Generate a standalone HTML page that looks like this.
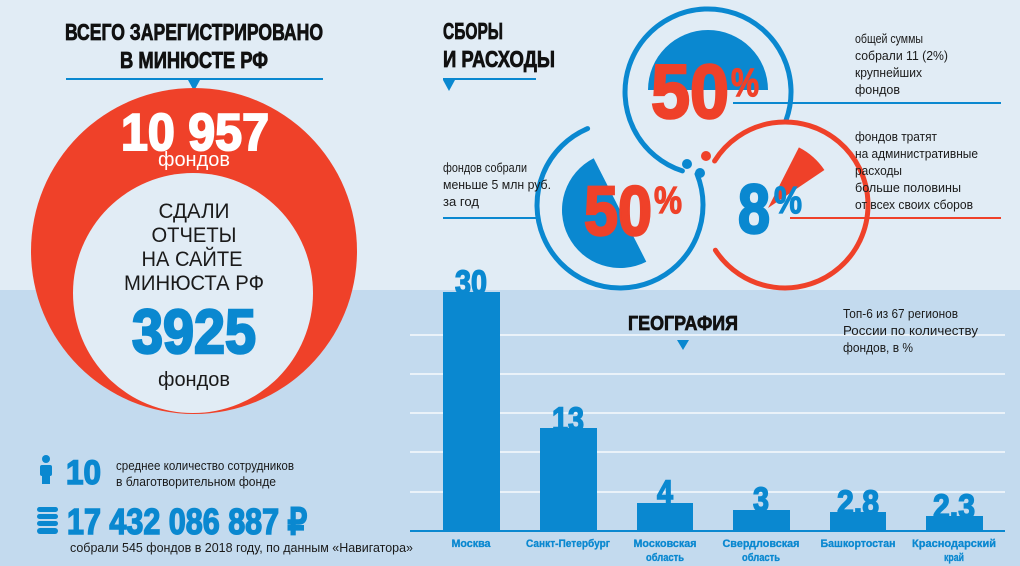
<!DOCTYPE html>
<html><head><meta charset="utf-8"><style>
html,body{margin:0;padding:0;background:#e1ecf5;}
svg{display:block}
text{font-family:"Liberation Sans",sans-serif;}
</style></head><body>
<svg width="1020" height="566" viewBox="0 0 1020 566" xmlns="http://www.w3.org/2000/svg">
<rect x="0" y="0" width="1020" height="290" fill="#e1ecf5"/>
<rect x="0" y="290" width="1020" height="276" fill="#c3daee"/>

<text x="194" y="40" text-anchor="middle" font-size="23" font-weight="bold" fill="#111" stroke="#111" stroke-width="0.8" textLength="258" lengthAdjust="spacingAndGlyphs">ВСЕГО ЗАРЕГИСТРИРОВАНО</text>
<text x="194" y="68" text-anchor="middle" font-size="23" font-weight="bold" fill="#111" stroke="#111" stroke-width="0.8" textLength="148" lengthAdjust="spacingAndGlyphs">В МИНЮСТЕ РФ</text>
<rect x="66" y="78" width="257" height="2" fill="#0a88d0"/>
<polygon points="188,80 200,80 194,91" fill="#0a88d0"/>
<circle cx="194" cy="251" r="163" fill="#ef4129"/>
<circle cx="193" cy="293" r="120" fill="#e1ecf5"/>
<text x="195" y="150" text-anchor="middle" font-size="52" font-weight="bold" fill="#fff" stroke="#fff" stroke-width="2" textLength="148" lengthAdjust="spacingAndGlyphs">10 957</text>
<text x="194" y="166" text-anchor="middle" font-size="20" fill="#fff" textLength="72" lengthAdjust="spacingAndGlyphs">фондов</text>
<g font-size="21" fill="#1a1a1a" text-anchor="middle">
<text x="194" y="218" textLength="71" lengthAdjust="spacingAndGlyphs">СДАЛИ</text>
<text x="194" y="242" textLength="85" lengthAdjust="spacingAndGlyphs">ОТЧЕТЫ</text>
<text x="192" y="266" textLength="101" lengthAdjust="spacingAndGlyphs">НА САЙТЕ</text>
<text x="194" y="290" textLength="140" lengthAdjust="spacingAndGlyphs">МИНЮСТА РФ</text>
</g>
<text x="194" y="353" text-anchor="middle" font-size="62" font-weight="bold" fill="#0a88d0" stroke="#0a88d0" stroke-width="2.5" textLength="124" lengthAdjust="spacingAndGlyphs">3925</text>
<text x="194" y="386" text-anchor="middle" font-size="20" fill="#1a1a1a" textLength="72" lengthAdjust="spacingAndGlyphs">фондов</text>

<g fill="#0a88d0">
<circle cx="46" cy="459" r="4"/>
<rect x="40" y="465" width="12" height="11" rx="2"/>
<rect x="42" y="474" width="8" height="10"/>
<rect x="37" y="507" width="21" height="5" rx="2.5"/>
<rect x="37" y="514" width="21" height="5" rx="2.5"/>
<rect x="37" y="521" width="21" height="5" rx="2.5"/>
<rect x="37" y="528" width="21" height="6" rx="3"/>
</g>
<text x="66" y="484" font-size="34" font-weight="bold" fill="#0a88d0" stroke="#0a88d0" stroke-width="1.5" textLength="35" lengthAdjust="spacingAndGlyphs">10</text>
<text x="116" y="470" font-size="13" fill="#1a1a1a" textLength="178" lengthAdjust="spacingAndGlyphs">среднее количество сотрудников</text>
<text x="116" y="486" font-size="13" fill="#1a1a1a" textLength="160" lengthAdjust="spacingAndGlyphs">в благотворительном фонде</text>
<text x="67" y="534" font-size="36" font-weight="bold" fill="#0a88d0" stroke="#0a88d0" stroke-width="1.5" textLength="240" lengthAdjust="spacingAndGlyphs">17 432 086 887 ₽</text>
<text x="70" y="552" font-size="13" fill="#1a1a1a" textLength="343" lengthAdjust="spacingAndGlyphs">собрали 545 фондов в 2018 году, по данным «Навигатора»</text>

<text x="443" y="39" font-size="23" font-weight="bold" fill="#111" stroke="#111" stroke-width="0.8" textLength="60" lengthAdjust="spacingAndGlyphs">СБОРЫ</text>
<text x="443" y="67" font-size="23" font-weight="bold" fill="#111" stroke="#111" stroke-width="0.8" textLength="112" lengthAdjust="spacingAndGlyphs">И РАСХОДЫ</text>
<rect x="443" y="78" width="93" height="2" fill="#0a88d0"/>
<polygon points="443,80 455,80 449,91" fill="#0a88d0"/>

<path d="M708 90 L648 90 A60 60 0 0 1 768 90 Z" fill="#0a88d0"/>
<path d="M620 210 L646.3 261.7 A58 58 0 0 1 593.7 158.3 Z" fill="#0a88d0"/>
<path d="M768 208 L798.9 147.4 A68 68 0 0 1 824.4 170 Z" fill="#ef4129"/>

<g fill="none" stroke-width="5" stroke-linecap="round">
<path d="M682.4 170.9 A83 83 0 1 1 786 120.4" stroke="#0a88d0"/>
<path d="M697 174 A83 83 0 1 1 587.6 128.6" stroke="#0a88d0"/>
<path d="M714.6 161 A83 83 0 1 1 715.4 250.2" stroke="#ef4129"/>
</g>
<circle cx="687" cy="164" r="5" fill="#0a88d0"/>
<circle cx="706" cy="156" r="5" fill="#ef4129"/>
<circle cx="700" cy="173" r="5" fill="#0a88d0"/>

<g font-weight="bold">
<text x="651" y="118" font-size="76" fill="#ef4129" stroke="#ef4129" stroke-width="2.5" textLength="78" lengthAdjust="spacingAndGlyphs">50</text>
<text x="731" y="96" font-size="40" fill="#ef4129" stroke="#ef4129" stroke-width="1.2" textLength="28" lengthAdjust="spacingAndGlyphs">%</text>
<text x="584" y="235" font-size="70" fill="#ef4129" stroke="#ef4129" stroke-width="2.5" textLength="68" lengthAdjust="spacingAndGlyphs">50</text>
<text x="654" y="213" font-size="38" fill="#ef4129" stroke="#ef4129" stroke-width="1.2" textLength="28" lengthAdjust="spacingAndGlyphs">%</text>
<text x="738" y="233" font-size="70" fill="#0a88d0" stroke="#0a88d0" stroke-width="2.5" textLength="32" lengthAdjust="spacingAndGlyphs">8</text>
<text x="774" y="213" font-size="38" fill="#0a88d0" stroke="#0a88d0" stroke-width="1.2" textLength="28" lengthAdjust="spacingAndGlyphs">%</text>
</g>

<g font-size="13" fill="#1a1a1a">
<text x="855" y="43" textLength="68" lengthAdjust="spacingAndGlyphs">общей суммы</text>
<text x="855" y="60" textLength="93" lengthAdjust="spacingAndGlyphs">собрали 11 (2%)</text>
<text x="855" y="77" textLength="67" lengthAdjust="spacingAndGlyphs">крупнейших</text>
<text x="855" y="94" textLength="45" lengthAdjust="spacingAndGlyphs">фондов</text>
<text x="855" y="141" textLength="82" lengthAdjust="spacingAndGlyphs">фондов тратят</text>
<text x="855" y="158" textLength="123" lengthAdjust="spacingAndGlyphs">на административные</text>
<text x="855" y="175" textLength="47" lengthAdjust="spacingAndGlyphs">расходы</text>
<text x="855" y="192" textLength="106" lengthAdjust="spacingAndGlyphs">больше половины</text>
<text x="855" y="209" textLength="118" lengthAdjust="spacingAndGlyphs">от всех своих сборов</text>
<text x="443" y="172" textLength="84" lengthAdjust="spacingAndGlyphs">фондов собрали</text>
<text x="443" y="189" textLength="108" lengthAdjust="spacingAndGlyphs">меньше 5 млн руб.</text>
<text x="443" y="206" textLength="36" lengthAdjust="spacingAndGlyphs">за год</text>
</g>
<rect x="733" y="102" width="268" height="2" fill="#0a88d0"/>
<rect x="790" y="217" width="211" height="2" fill="#ef4129"/>
<rect x="443" y="217" width="95" height="2" fill="#0a88d0"/>

<g fill="#eaf2f9">
<rect x="410" y="334" width="595" height="2"/>
<rect x="410" y="373" width="595" height="2"/>
<rect x="410" y="412" width="595" height="2"/>
<rect x="410" y="451" width="595" height="2"/>
<rect x="410" y="491" width="595" height="2"/>
</g>
<text x="628" y="330" font-size="20" font-weight="bold" fill="#111" stroke="#111" stroke-width="0.7" textLength="110" lengthAdjust="spacingAndGlyphs">ГЕОГРАФИЯ</text>
<polygon points="677,340 689,340 683,350" fill="#0a88d0"/>
<g font-size="12.5" fill="#1a1a1a">
<text x="843" y="318" textLength="115" lengthAdjust="spacingAndGlyphs">Топ-6 из 67 регионов</text>
<text x="843" y="335" textLength="135" lengthAdjust="spacingAndGlyphs">России по количеству</text>
<text x="843" y="352" textLength="70" lengthAdjust="spacingAndGlyphs">фондов, в %</text>
</g>
<g fill="#0a88d0">
<rect x="443" y="292" width="57" height="240"/>
<rect x="540" y="428" width="57" height="104"/>
<rect x="637" y="503" width="56" height="29"/>
<rect x="733" y="510" width="57" height="22"/>
<rect x="830" y="512" width="56" height="20"/>
<rect x="926" y="516" width="57" height="16"/>
<rect x="410" y="530" width="595" height="2"/>
</g>
<g font-size="34" font-weight="bold" fill="#0a88d0" stroke="#0a88d0" stroke-width="1.5" text-anchor="middle">
<text x="471" y="294" textLength="32" lengthAdjust="spacingAndGlyphs">30</text>
<text x="568" y="431" textLength="32" lengthAdjust="spacingAndGlyphs">13</text>
<text x="665" y="504" textLength="16" lengthAdjust="spacingAndGlyphs">4</text>
<text x="761" y="511" textLength="16" lengthAdjust="spacingAndGlyphs">3</text>
<text x="858" y="514" textLength="42" lengthAdjust="spacingAndGlyphs">2.8</text>
<text x="954" y="518" textLength="42" lengthAdjust="spacingAndGlyphs">2.3</text>
</g>
<g font-size="11" font-weight="bold" fill="#0a88d0" stroke="#0a88d0" stroke-width="0.3" text-anchor="middle">
<text x="471" y="547" textLength="39" lengthAdjust="spacingAndGlyphs">Москва</text>
<text x="568" y="547" textLength="84" lengthAdjust="spacingAndGlyphs">Санкт-Петербург</text>
<text x="665" y="547" textLength="63" lengthAdjust="spacingAndGlyphs">Московская</text>
<text x="665" y="561" textLength="38" lengthAdjust="spacingAndGlyphs">область</text>
<text x="761" y="547" textLength="77" lengthAdjust="spacingAndGlyphs">Свердловская</text>
<text x="761" y="561" textLength="38" lengthAdjust="spacingAndGlyphs">область</text>
<text x="858" y="547" textLength="75" lengthAdjust="spacingAndGlyphs">Башкортостан</text>
<text x="954" y="547" textLength="84" lengthAdjust="spacingAndGlyphs">Краснодарский</text>
<text x="954" y="561" textLength="20" lengthAdjust="spacingAndGlyphs">край</text>
</g>
</svg>
</body></html>
